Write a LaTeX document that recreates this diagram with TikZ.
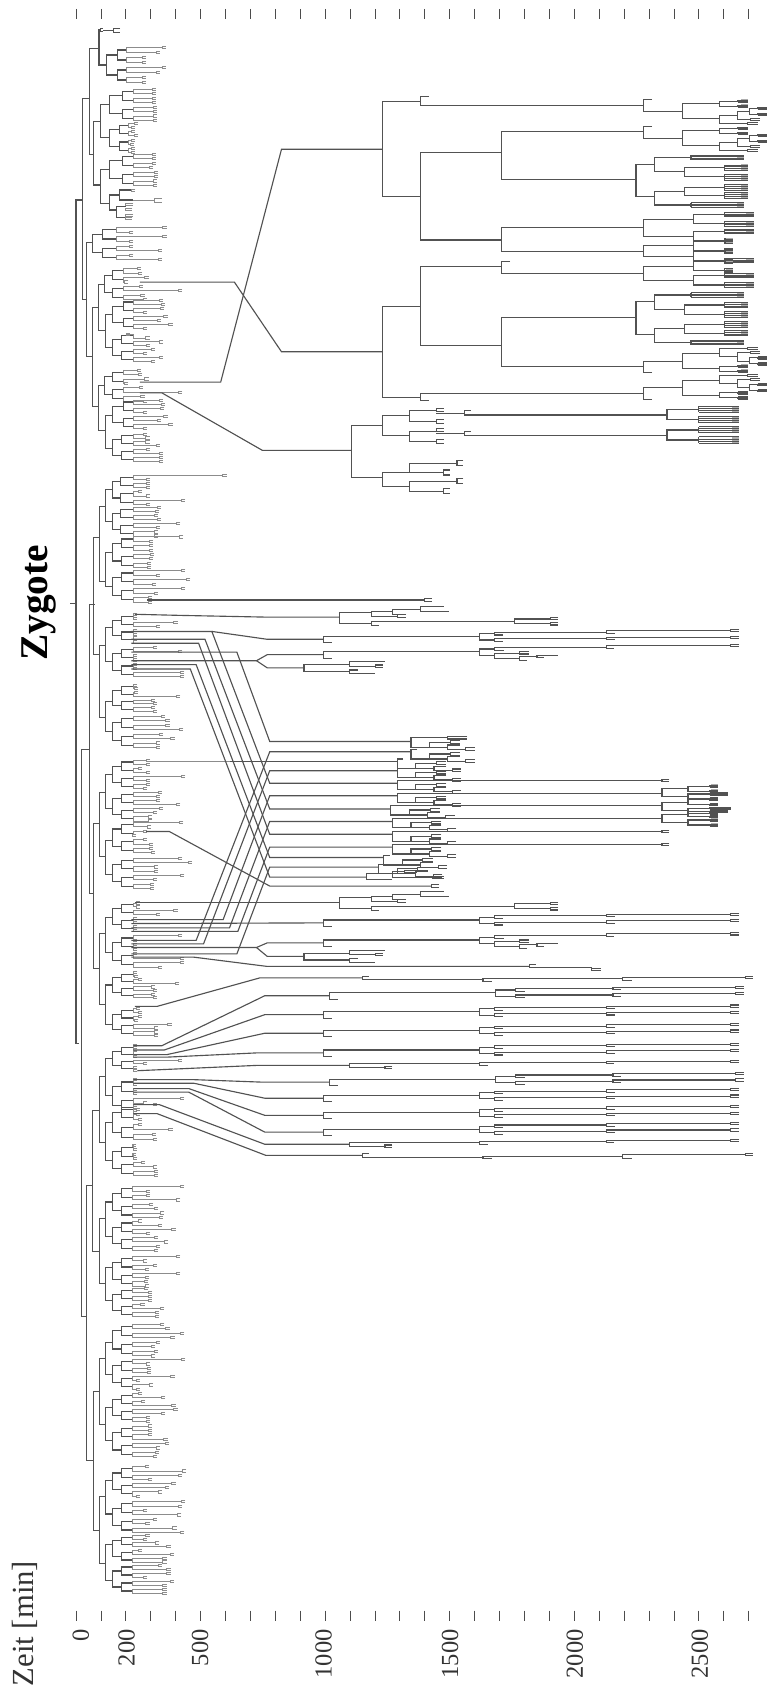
\documentclass[tikz,border=0pt]{standalone}
\usepackage{fontspec}
\setmainfont{Liberation Serif}
% bracket: vertical at #1 from #2 to #4, arms to #3 and #5
\newcommand{\brk}[5]{\draw (#3,#2) -- (#1,#2) -- (#1,#4) -- (#5,#4);}
% small end fork
\newcommand{\fk}[4]{\draw (#3,#2-#4) -- (#1,#2-#4) -- (#1,#2+#4) -- (#3,#2+#4);}
% dense leaf block
\newcommand{\hatch}[4]{%
  \fill[black!32] (#4-15,#2-1.5) rectangle (#4,#3+1.5);
  \draw (#1,#2) -- (#1,#3);
  \foreach \t in {0,.33,.67,1} \draw[line width=.6pt] (#1,{(#2)+\t*((#3)-(#2))}) -- (#4,{(#2)+\t*((#3)-(#2))});}
% eight leaves: x0, x1, x2, y0, dy, leaf ends
\newcommand{\quartet}[6]{%
  \begin{scope}[tree]
    \brk{#1}{#4+1.5*#5}{#2}{#4+5.5*#5}{#2}
    \brk{#2}{#4+.5*#5}{#3}{#4+2.5*#5}{#3}
    \brk{#2}{#4+4.5*#5}{#3}{#4+6.5*#5}{#3}
  \end{scope}
  \begin{scope}[leaf]
    \foreach \k in {0,2,4,6} \draw (#3,#4+\k*#5) -- (#3,#4+\k*#5+#5);
    \foreach \xe [count=\i from 0] in {#6} {
      \draw (#3,#4+\i*#5) -- (\xe-8,#4+\i*#5);
      \fk{\xe-8}{#4+\i*#5}{\xe}{3}
    }
  \end{scope}}
% rows of the late part of the tree
\newcommand{\rowB}[6]{%
  \brk{#1}{#6-8}{#2}{#6+10}{#1+18}
  \brk{#2}{#6-16}{#3}{#6+2}{#3}
  \brk{#3}{#6-20}{#4}{#6-12}{#3+18}
  \brk{#3}{#6-2}{#4}{#6+6}{#3+18}
  \brk{#4}{#6-24}{#5}{#6-17}{#4+17}
  \brk{#4}{#6-6}{#5}{#6+1}{#4+17}
  \fk{#5}{#6-24}{#5+17}{3}
  \fk{#5}{#6-6}{#5+17}{3}}
\newcommand{\rowBa}[1]{\rowB{660}{977}{1008}{1237}{1490}{#1}}
\newcommand{\rowBb}[1]{\rowB{672}{1010}{1052}{1250}{1500}{#1}}
\newcommand{\rowD}[1]{%
  \brk{660}{#1-8}{977}{#1+10}{678}
  \brk{977}{#1-16}{1008}{#1+3}{1008}
  \brk{1008}{#1-20}{1237}{#1-12}{1027}
  \brk{1237}{#1-25}{1490}{#1-17}{1252}
  \fk{1490}{#1-25}{1507}{3}
  \brk{1008}{#1-3}{1060}{#1+10}{1060}
  \fk{1060}{#1-5}{1078}{3}
  \brk{1060}{#1+5}{1095}{#1+17}{1075}
  \brk{1095}{#1+3}{1137}{#1+9}{1110}}
\newcommand{\rowE}[1]{%
  \brk{620}{#1-9}{713}{#1+10}{713}
  \brk{713}{#1-17}{785}{#1-5}{765}
  \fk{765}{#1-5}{780}{3}
  \brk{713}{#1+6}{730}{#1+16}{765}}
\newcommand{\rowG}[1]{%
  \brk{740}{#1-5}{752}{#1+5}{985}
  \brk{985}{#1+2}{1270}{#1+10}{1003}
  \brk{1270}{#1-2}{1520}{#1+8}{1288}
  \fk{1520}{#1-2}{1535}{3}}
\newcommand{\rowH}[1]{%
  \brk{713}{#1-5}{977}{#1+5}{785}
  \fk{785}{#1+5}{800}{3}
  \brk{977}{#1-7}{1237}{#1+1}{995}
  \brk{1237}{#1-11}{1490}{#1-5}{1253}
  \fk{1490}{#1-11}{1507}{3}}
\newcommand{\rowR}[1]{%
  \brk{693}{#1-12}{757}{#1+17}{757}
  \brk{757}{#1-17}{800}{#1-3}{810}
  \brk{800}{#1-22}{858}{#1-8}{818}
  \brk{858}{#1-30}{905}{#1-15}{915}
  \fk{810}{#1-3}{828}{4}
  \brk{757}{#1+12}{1050}{#1+23}{772}
  \brk{1050}{#1+5}{1122}{#1+18}{1122}
  \fk{1122}{#1+3}{1138}{3}
  \fk{1122}{#1+19}{1138}{3}}
\newcommand{\midrow}[3]{%
  \brk{#1}{#2}{#3}{#2+26}{#1+38}
  \brk{#1+38}{#2+12}{#1+80}{#2+26}{#1+75}
  \fk{#1+80}{#2+12}{#1+100}{4}
  \brk{#1+75}{#2+20}{#1+100}{#2+32}{#1+112}
  \fk{#1+112}{#2+32}{#1+130}{4}}
% blocks of the upper right
\newcommand{\rowA}[3]{%
  \brk{1414}{#1-13}{1477}{#1+13}{1477}
  \hatch{1477}{#1-19}{#1-7}{#2}
  \hatch{1477}{#1+7}{#1+19}{#3}}
\newcommand{\blockA}[2]{%
  \begin{scope}[shift={(0,#1)},yscale=#2]
    \brk{1312}{-17}{1330}{16}{1392}
    \brk{1392}{-6}{1468}{36}{1468}
    \brk{1468}{-12}{1505}{2}{1505}
    \hatch{1505}{-15}{-9}{1525}
    \hatch{1505}{-1}{5}{1525}
    \brk{1468}{28}{1503}{51}{1525}
    \fk{1525}{51}{1545}{3}
    \brk{1503}{16}{1529}{39}{1530}
    \brk{1529}{8}{1545}{25}{1545}
    \hatch{1545}{5}{11}{1565}
    \hatch{1545}{22}{28}{1565}
    \fk{1530}{39}{1550}{3}
  \end{scope}}
\newcommand{\blockB}[1]{%
  \brk{1297}{#1-43}{1335}{#1+48}{1335}
  \brk{1335}{#1-62}{1409}{#1-22}{1395}
  \brk{1335}{#1+32}{1395}{#1+71}{1409}
  \hatch{1409}{#1-68}{#1-56}{1517}
  \hatch{1409}{#1+65}{#1+77}{1517}
  \brk{1395}{#1-34}{1477}{#1-8}{1477}
  \brk{1395}{#1+21}{1477}{#1+45}{1477}
  \hatch{1477}{#1-41}{#1-26}{1525}
  \hatch{1477}{#1-15}{#1+1}{1525}
  \hatch{1477}{#1+13}{#1+29}{1525}
  \hatch{1477}{#1+37}{#1+52}{1525}}
\newcommand{\blockC}[1]{%
  \brk{948}{#1}{960}{#1+12}{1360}
  \brk{1360}{#1-3}{1425}{#1+25}{1425}
  \hatch{1425}{#1-12}{#1+5}{1507}
  \hatch{1425}{#1+16}{#1+34}{1507}}
\begin{document}
\begin{tikzpicture}[
    crop1/.style = {x=.3678pt, y=-.26786pt},
    crop2/.style = {x=.3678pt, y=-.26786pt, shift={(0,-420pt)}},
    crop3/.style = {x=.3678pt, y=-.27312pt, shift={(0,-840pt)}},
    tree/.style  = {color=black!68, line width=.85pt},
    leaf/.style  = {color=black!45, line width=.5pt},
    tick/.style  = {color=black!70, line width=.6pt},
    num/.style   = {rotate=90, anchor=east, inner sep=0pt, text=black!80, font=\fontsize{18.4}{20}\selectfont},
  ]
  \useasboundingbox (0,0) rectangle (576.75pt,-1268.25pt);

  % ---- time axis ----
  \begin{scope}[crop1]
    \foreach \i in {0,...,27} \draw[tick] (155+50.8*\i,25) -- (155+50.8*\i,52);
    \node (zygote) [rotate=90, anchor=east, inner sep=0pt, font=\fontsize{29.5}{30}\bfseries\selectfont] at (80,1525) {Zygote};
  \end{scope}
  \begin{scope}[crop3]
    \foreach \i in {0,...,27} \draw[tick] (155+50.8*\i,1347) -- (155+50.8*\i,1375);
    \node (zeit) [rotate=90, anchor=east, inner sep=0pt, text=black!80, font=\fontsize{23}{24}\selectfont] at (50,1210) {Zeit [min]};
    \node (t0) [num] at (165,1398) {0};
    \node (t200) [num] at (258,1398) {200};
    \node (t500) [num] at (408,1398) {500};
    \node (t1000) [num] at (660,1398) {1000};
    \node (t1500) [num] at (918,1398) {1500};
    \node (t2000) [num] at (1172,1398) {2000};
    \node (t2500) [num] at (1427,1398) {2500};
  \end{scope}

  % ---- early spine (y runs on over the crops) ----
  \begin{scope}[crop1, tree]
    \brk{155}{560}{168}{2923}{162}
    \brk{168}{275}{182}{838}{176}
    \brk{182}{135}{202}{433}{191}
    \brk{202}{84}{205}{182}{218}
    \brk{191}{340}{205}{518}{205}
    \brk{205}{293}{223}{386}{223}
    \brk{205}{475}{223}{570}{223}
    \brk{176}{678}{189}{999}{188}
    \brk{188}{860}{200}{1139}{200}
    \brk{200}{796}{213}{925}{215}
    \brk{215}{880}{230}{973}{230}
    \brk{200}{1080}{213}{1205}{215}
    \brk{215}{1164}{230}{1257}{230}
    \brk{190}{1505}{203}{1833}{203}
    \brk{203}{1417}{215}{1628}{215}
    \brk{215}{1371}{229}{1460}{229}
    \brk{215}{1546}{229}{1642}{229}
    \brk{183}{1693}{193}{2503}{190}
    \brk{167}{2098}{183}{3687}{177}
    \brk{203}{1808}{215}{2008}{215}
    \brk{215}{1758}{229}{1853}{229}
    \brk{215}{1963}{229}{2048}{229}
    \brk{190}{2306}{203}{2711}{203}
    \brk{203}{2218}{215}{2398}{215}
    \brk{215}{2168}{229}{2263}{229}
    \brk{215}{2353}{229}{2448}{229}
    \brk{203}{2615}{215}{2813}{215}
    \brk{215}{2568}{229}{2668}{229}
    \brk{215}{2758}{229}{2868}{229}
    \brk{177}{3320}{189}{4089}{190}
    \draw (143,1690) -- (155,1690);
    \fk{205}{85}{210}{4}
    \draw (210,85) -- (232,85);
    \fk{232}{85}{245}{6}
  \end{scope}
  \begin{scope}[crop2, tree]
    \brk{203}{1447}{215}{1630}{215}
    \brk{215}{1395}{229}{1500}{229}
    \brk{215}{1574}{229}{1681}{229}
  \end{scope}
  \begin{scope}[crop3, tree]
    \brk{189}{-27}{203}{360}{203}
    \brk{203}{270}{215}{450}{215}
    \brk{215}{225}{229}{320}{229}
    \brk{215}{405}{229}{495}{229}
    \brk{190}{745}{203}{1127}{203}
    \brk{203}{655}{215}{835}{215}
    \brk{215}{610}{229}{700}{229}
    \brk{215}{790}{229}{880}{229}
    \brk{203}{1035}{215}{1218}{215}
    \brk{215}{990}{229}{1082}{229}
    \brk{215}{1165}{229}{1265}{229}
  \end{scope}

  % ---- first crop: leaves ----
  \begin{scope}[crop1]
    \quartet{218}{239}{257}{133}{14}{338,326,298,298,338,326,298,298}
    \quartet{223}{249}{272}{250}{12.4}{318,318,318,318,320,320,320,320}
    \quartet{223}{243}{262}{345}{11.7}{282,276,275,282,275,273,275,275}
    \quartet{223}{249}{272}{432}{12.4}{318,318,318,312,322,322,320,320}
    \quartet{189}{209}{237}{637}{12.9}{340,272,340,272,272,330,272,330}
    \quartet{213}{230}{251}{752}{12.4}{288,290,303,262,292,372,295,300}
    \quartet{230}{251}{272}{840}{11.5}{332,336,335,300,342,328,352,300}
    \quartet{230}{248}{272}{935}{11}{265,305,332,306,316,300,332,316}
    \quartet{213}{230}{251}{1036}{12.4}{288,290,303,262,292,372,295,300}
    \quartet{230}{251}{272}{1120}{11.5}{332,336,335,300,342,328,352,300}
    \quartet{230}{248}{272}{1215}{11}{300,305,305,326,306,332,332,332}
    \quartet{229}{245}{272}{1330}{11.7}{462,306,306,306,290,306,378,306}
    \quartet{229}{245}{272}{1420}{11.5}{328,325,322,328,368,326,322,322}
    \quartet{229}{248}{272}{1503}{12.3}{374,312,312,312,314,312,308,308}
    % the odd group of four
    \begin{scope}[tree]
      \brk{223}{546}{243}{588}{237}
      \brk{243}{532}{268}{560}{272}
      \brk{237}{579}{256}{608}{256}
    \end{scope}
    \begin{scope}[leaf]
      \fk{268}{532}{276}{3}
      \draw (272,560) -- (315,560);
      \fk{315}{560}{330}{6}
      \fk{256}{573}{272}{3}
      \fk{256}{585}{270}{3}
      \fk{256}{603}{272}{3}
      \fk{256}{612}{270}{3}
    \end{scope}
  \end{scope}

  % ---- first crop: late tree ----
  \begin{scope}[crop1, tree]
    \draw (285,1070) -- (450,1070) -- (574,418) -- (780,418);
    \draw (285,790) -- (478,790) -- (574,985) -- (780,985);
    \draw (285,1100) -- (330,1100) -- (535,1261) -- (717,1261);
    \brk{780}{285}{857}{550}{857}
    \brk{857}{270}{875}{295}{1312}
    \brk{857}{428}{1022}{672}{1022}
    \brk{1022}{368}{1312}{503}{1297}
    \brk{1022}{638}{1312}{703}{1312}
    \brk{780}{858}{857}{1112}{857}
    \brk{857}{747}{1022}{967}{1022}
    \brk{1022}{732}{1040}{765}{1312}
    \brk{1022}{890}{1297}{1027}{1312}
    \brk{857}{1102}{1312}{1122}{875}
    \blockA{295}{1}
    \blockA{371}{1}
    \blockA{1027}{-1}
    \blockA{1102}{-1}
    \blockB{503}
    \blockB{888}
    \brk{1312}{614}{1414}{661}{1414}
    \brk{1312}{688}{1414}{717}{1414}
    \brk{1312}{745}{1414}{785}{1414}
    \rowA{614}{1537}{1537}
    \rowA{661}{1537}{1495}
    \rowA{688}{1495}{1495}
    \rowA{717}{1495}{1537}
    \rowA{745}{1495}{1495}
    \rowA{785}{1537}{1537}
    % lowest block
    \brk{717}{1192}{780}{1336}{780}
    \brk{780}{1163}{835}{1220}{835}
    \brk{835}{1150}{890}{1180}{890}
    \brk{835}{1207}{890}{1237}{890}
    \fk{890}{1147}{905}{4}
    \fk{890}{1180}{905}{6}
    \fk{890}{1204}{905}{4}
    \fk{890}{1237}{905}{6}
    \draw (890,1157) -- (948,1157);
    \draw (890,1213) -- (948,1213);
    \blockC{1150}
    \blockC{1207}
    \brk{780}{1322}{835}{1361}{835}
    \brk{835}{1297}{932}{1323}{905}
    \brk{835}{1347}{932}{1375}{905}
    \fk{932}{1297}{945}{7}
    \fk{905}{1323}{917}{7}
    \fk{932}{1347}{945}{7}
    \fk{905}{1375}{917}{7}
  \end{scope}

  % ---- second crop: leaves ----
  \begin{scope}[crop2]
    \quartet{229}{248}{272}{30}{12.5}{378,326,388,318,378,322,310,310}
    \quartet{229}{248}{272}{152}{11}{280,280,362,326,280,280,280,280}
    \quartet{229}{248}{272}{245}{11.5}{320,372,280,280,280,280,376,376}
    \quartet{229}{248}{272}{350}{10.5}{280,282,282,368,316,320,316,320}
    \quartet{229}{248}{272}{437}{12.5}{336,346,346,374,332,356,326,326}
    \quartet{229}{248}{272}{560}{11.5}{306,306,290,306,378,306,306,300}
    \quartet{229}{248}{272}{650}{11.5}{330,326,326,368,332,320,310,310}
    \quartet{229}{248}{272}{735}{12}{374,308,300,278,300,312,312,316}
    \quartet{229}{248}{272}{835}{12}{372,392,322,322,376,320,314,314}
    \quartet{229}{248}{272}{960}{11}{285,285,362,326,280,280,280,280}
    \quartet{229}{248}{272}{1052}{12.5}{372,280,280,280,280,376,376,330}
    \quartet{229}{248}{272}{1155}{10}{280,282,290,366,316,320,316,320}
    \quartet{229}{248}{272}{1255}{11}{285,290,290,282,350,322,322,322}
    \quartet{229}{248}{272}{1360}{10}{280,280,280,280,372,300,280,280}
    \quartet{229}{248}{272}{1455}{13}{280,280,280,280,376,300,280,280}
    \quartet{229}{248}{272}{1525}{14}{320,285,285,290,290,352,318,320}
    \quartet{229}{248}{272}{1639}{12}{278,280,278,280,296,320,322,322}
    \draw[leaf] (300,564) -- (470,564);
  \end{scope}

  % ---- second crop: late tree ----
  \begin{scope}[crop2, tree]
    \draw (300,112) -- (865,112);
    \fk{865}{112}{880}{5}
    \draw (275,152) -- (365,155) -- (545,160) -- (693,160);
    \draw (268,200) -- (432,200) -- (550,625) -- (810,625);
    \draw (432,200) -- (545,222) -- (660,222);
    \draw (268,222) -- (418,222) -- (550,697) -- (797,697);
    \draw (268,233) -- (405,233) -- (550,768) -- (800,768);
    \draw (268,258) -- (483,258) -- (550,508) -- (838,508);
    \draw (268,293) -- (400,293) -- (550,833) -- (782,833);
    \draw (268,305) -- (388,305) -- (550,888) -- (748,888);
    \draw (268,282) -- (510,282) -- (523,282) -- (545,265) -- (660,265);
    \draw (523,282) -- (545,302) -- (620,302);
    \draw (298,760) -- (345,760) -- (550,913) -- (880,913);
    \draw (470,564) -- (810,564);
    \draw (275,958) -- (693,958);
    \draw (268,1007) -- (455,1007) -- (550,660) -- (810,660);
    \draw (268,1018) -- (660,1016);
    \draw (268,1030) -- (468,1030) -- (550,732) -- (800,732);
    \draw (268,1040) -- (485,1040) -- (550,804) -- (800,804);
    \draw (268,1065) -- (400,1065) -- (550,537) -- (838,537);
    \draw (268,1075) -- (415,1075) -- (550,590) -- (810,590);
    \draw (268,1085) -- (510,1085) -- (523,1085) -- (545,1072) -- (660,1072);
    \draw (523,1085) -- (545,1110) -- (620,1110);
    \draw (268,1103) -- (483,1103) -- (550,860) -- (772,860);
    \draw (268,1112) -- (395,1112) -- (545,1138) -- (1080,1138);
    \brk{1080}{1133}{1092}{1142}{1207}
    \fk{1207}{1147}{1225}{3}
    \draw (275,1250) -- (320,1250) -- (530,1170) -- (740,1170);
    \draw (272,1360) -- (330,1360) -- (540,1220) -- (672,1220);
    \draw (272,1372) -- (335,1372) -- (540,1273) -- (660,1273);
    \draw (272,1385) -- (340,1385) -- (540,1325) -- (660,1325);
    \draw (272,1392) -- (340,1392) -- (525,1380) -- (660,1380);
    \draw (280,1430) -- (525,1415) -- (713,1415);
    \draw (272,1455) -- (395,1455) -- (535,1462) -- (672,1462);
    \draw (272,1465) -- (395,1465) -- (540,1507) -- (660,1507);
    \draw (272,1480) -- (385,1480) -- (540,1555) -- (660,1555);
    \draw (272,1490) -- (385,1490) -- (540,1602) -- (660,1602);
    \draw (272,1525) -- (325,1525) -- (540,1636) -- (713,1636);
    \draw (272,1550) -- (320,1550) -- (542,1667) -- (740,1667);
    \rowR{160}
    \rowR{958}
    \foreach \y in {222,1016,1273,1325,1380,1507,1555,1602} {\rowBa{\y}}
    \foreach \y in {1220,1462} {\rowBb{\y}}
    \rowD{265}
    \rowD{1072}
    \rowE{302}
    \rowE{1110}
    \rowG{1170}
    \rowG{1667}
    \rowH{1415}
    \rowH{1636}
    % middle block
    \midrow{838}{498}{912}
    \fk{912}{498}{953}{3}
    \midrow{838}{531}{851}
    \midrow{810}{557}{822}
    \midrow{810}{583}{822}
    \foreach \x/\y in {810/617,810/653,797/688,800/723,800/761,800/797} {\midrow{\x}{\y}{1350}}
    \midrow{782}{828}{795}
    \midrow{772}{853}{785}
    \brk{748}{878}{800}{895}{800}
    \brk{800}{872}{825}{890}{883}
    \fk{825}{872}{850}{3}
    \fk{883}{890}{905}{3}
    \fk{880}{913}{895}{4}
    \foreach \y in {617,761,797} {\fk{1350}{\y}{1365}{3}}
    \brk{1350}{640}{1403}{662}{1403}
    \brk{1350}{678}{1403}{702}{1403}
    \brk{1350}{712}{1403}{735}{1403}
    \foreach \y/\xa in {640/1465,662/1485,678/1465,702/1490,712/1485,735/1465} {
      \brk{1403}{\y-7}{1447}{\y+7}{1447}
      \hatch{1447}{\y-10}{\y-4}{\xa}
      \hatch{1447}{\y+4}{\y+10}{1465}
    }
  \end{scope}

  % ---- third crop: leaves ----
  \begin{scope}[crop3]
    \quartet{229}{248}{270}{183}{12}{376,306,306,368,312,322,335,332}
    \quartet{229}{248}{270}{277}{11.5}{290,330,358,306,322,343,326,323}
    \quartet{229}{248}{270}{375}{11.5}{368,300,320,304,368,304,302,304}
    \quartet{229}{248}{270}{462}{11}{302,310,310,310,295,335,324,325}
    \quartet{229}{248}{270}{560}{12.5}{335,346,376,356,326,316,322,316}
    \quartet{229}{248}{270}{658}{11.5}{378,306,308,308,356,285,312,285}
    \quartet{229}{248}{270}{750}{11}{290,337,296,358,362,336,306,306}
    \quartet{229}{248}{270}{840}{12}{310,310,310,342,345,326,324,320}
    \quartet{229}{248}{270}{952}{11.5}{304,380,372,310,358,345,330,285}
    \quartet{229}{248}{270}{1048}{12}{378,372,300,370,320,305,360,376}
    \quartet{229}{248}{270}{1140}{10.5}{305,300,325,348,290,355,340,340}
    \quartet{229}{248}{270}{1222}{11}{330,348,348,300,355,340,340,340}
  \end{scope}
\end{tikzpicture}
\end{document}
